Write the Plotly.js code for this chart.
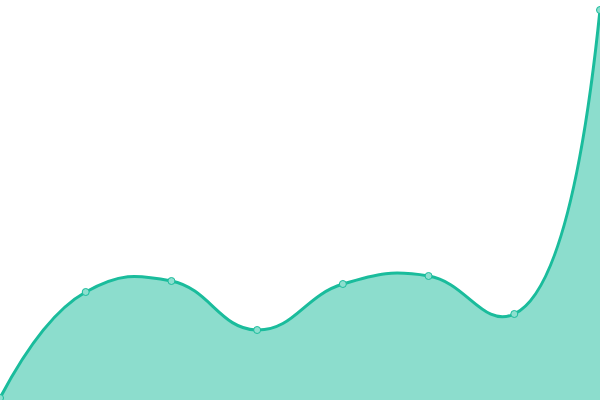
<!DOCTYPE html>
<html><head><meta charset="utf-8">
<script src="https://cdn.plot.ly/plotly-3.0.1.min.js"></script>
<style>html,body{margin:0;padding:0;background:#fff}#c{width:600px;height:400px}</style>
</head><body><div id="c"></div>
<script>
var categories = [0, 1, 2, 3, 4, 5, 6, 7];
var values = [2, 108, 119, 70, 116, 124, 86, 390];

Plotly.newPlot('c', [{
  x: categories, y: values, type: 'scatter', mode: 'lines+markers',
  line: {shape: 'spline', smoothing: 1.3, color: '#1abc9c', width: 3},
  fill: 'tozeroy', fillcolor: 'rgba(26,188,156,0.5)',
  marker: {size: 7, color: '#8ddfcf', line: {color: '#1abc9c', width: 1}},
  cliponaxis: false, hoverinfo: 'skip'
}], {
  width: 600, height: 400,
  margin: {l: 0, r: 0, t: 0, b: 0},
  paper_bgcolor: '#fff', plot_bgcolor: '#fff',
  showlegend: false,
  xaxis: {range: [0, 7], visible: false, fixedrange: true},
  yaxis: {range: [0, 400], visible: false, fixedrange: true}
}, {staticPlot: true, displayModeBar: false});
</script></body></html>
